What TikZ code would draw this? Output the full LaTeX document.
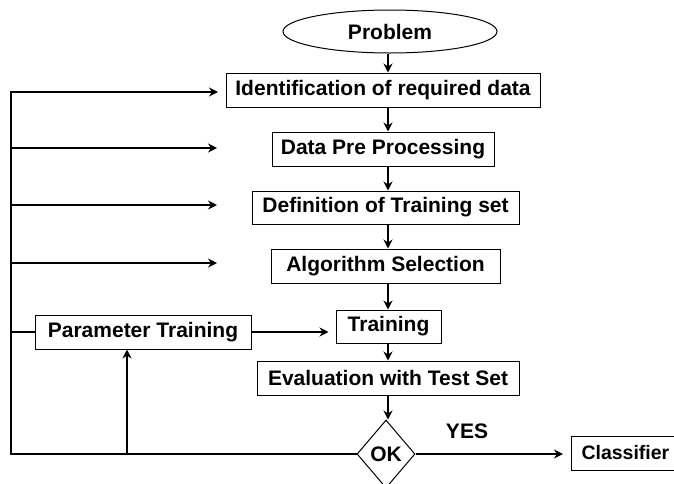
\documentclass[tikz,border=0pt]{standalone}
\usepackage{fontspec}
\setmainfont{Liberation Sans}
\usetikzlibrary{shapes.geometric,arrows.meta}
\begin{document}
\begin{tikzpicture}[x=1pt,y=-1pt,
  every node/.style={font=\fontsize{21}{24}\selectfont\bfseries},
  stepbox/.style={draw, line width=1pt, inner sep=0pt, minimum height=34pt},
  conn/.style={line width=1.8pt, line join=miter},
  arr/.style={conn,-{Stealth[length=9pt,width=9pt,inset=3pt]}},
]
\clip (0,0) rectangle (674,483);
\fill[white] (0,0) rectangle (674,483);

% process steps
\node[draw, ellipse, line width=1pt, minimum width=214pt, minimum height=43pt, inner sep=0pt] (prob) at (390,31.5) {Problem};
\node[stepbox, minimum width=314pt] (ident) at (383,90) {Identification of required data};
\node[stepbox, minimum width=222pt] (prep) at (383,149) {Data Pre Processing};
\node[stepbox, minimum width=267pt, minimum height=33pt] (tset) at (385.5,207.5) {Definition of Training set};
\node[stepbox, minimum width=229pt] (algo) at (385.5,266) {Algorithm Selection};
\node[stepbox, minimum width=105pt, minimum height=33pt] (train) at (388.5,326.5) {Training};
\node[stepbox, minimum width=216pt] (param) at (143,332) {Parameter Training};
\node[stepbox, minimum width=262pt] (eval) at (388,378) {Evaluation with Test Set};
\node[draw, diamond, line width=1pt, minimum width=58pt, minimum height=68pt, inner sep=0pt] (ok) at (386,454) {OK};
% the last box runs on past the right edge of the picture
\node[stepbox, anchor=west, inner xsep=10pt, font=\fontsize{19.5}{22}\selectfont\bfseries] (cls) at (571,453) {Classifier\hspace*{14pt}};
\node (yes) at (467,431) {YES};

% main flow
\coordinate (col) at (388,0);
\draw[arr] (prob.south -| col) -- (ident.north -| col);
\draw[arr] (ident.south -| col) -- (prep.north -| col);
\draw[arr] (prep.south -| col) -- (tset.north -| col);
\draw[arr] (tset.south -| col) -- (algo.north -| col);
\draw[arr] (algo.south -| col) -- (train.north -| col);
\draw[arr] (train.south -| col) -- (eval.north -| col);
\draw[arr] (eval.south -| col) -- (ok.north -| col);
\draw[arr, shorten >=8pt] (ok.east) -- (cls.west |- ok.east);

% feedback rail
\coordinate (railtop) at (11,92);
\coordinate (railbot) at (11,454);
\coordinate (tip1) at (218,92);
\coordinate (tip2) at (217,148);
\coordinate (tip3) at (217,205);
\coordinate (tip4) at (217,263);
\coordinate (ptup) at (127,454);
\draw[arr] (ok.west) -- (railbot) -- (railtop) -- (tip1);
\draw[arr] (railtop |- tip2) -- (tip2);
\draw[arr] (railtop |- tip3) -- (tip3);
\draw[arr] (railtop |- tip4) -- (tip4);
\draw[conn] (railtop |- param.west) -- (param.west);
\draw[arr] (ptup) -- (param.south -| ptup);
\draw[arr, shorten >=7pt] (param.east) -- (train.west |- param.east);
\end{tikzpicture}
\end{document}
